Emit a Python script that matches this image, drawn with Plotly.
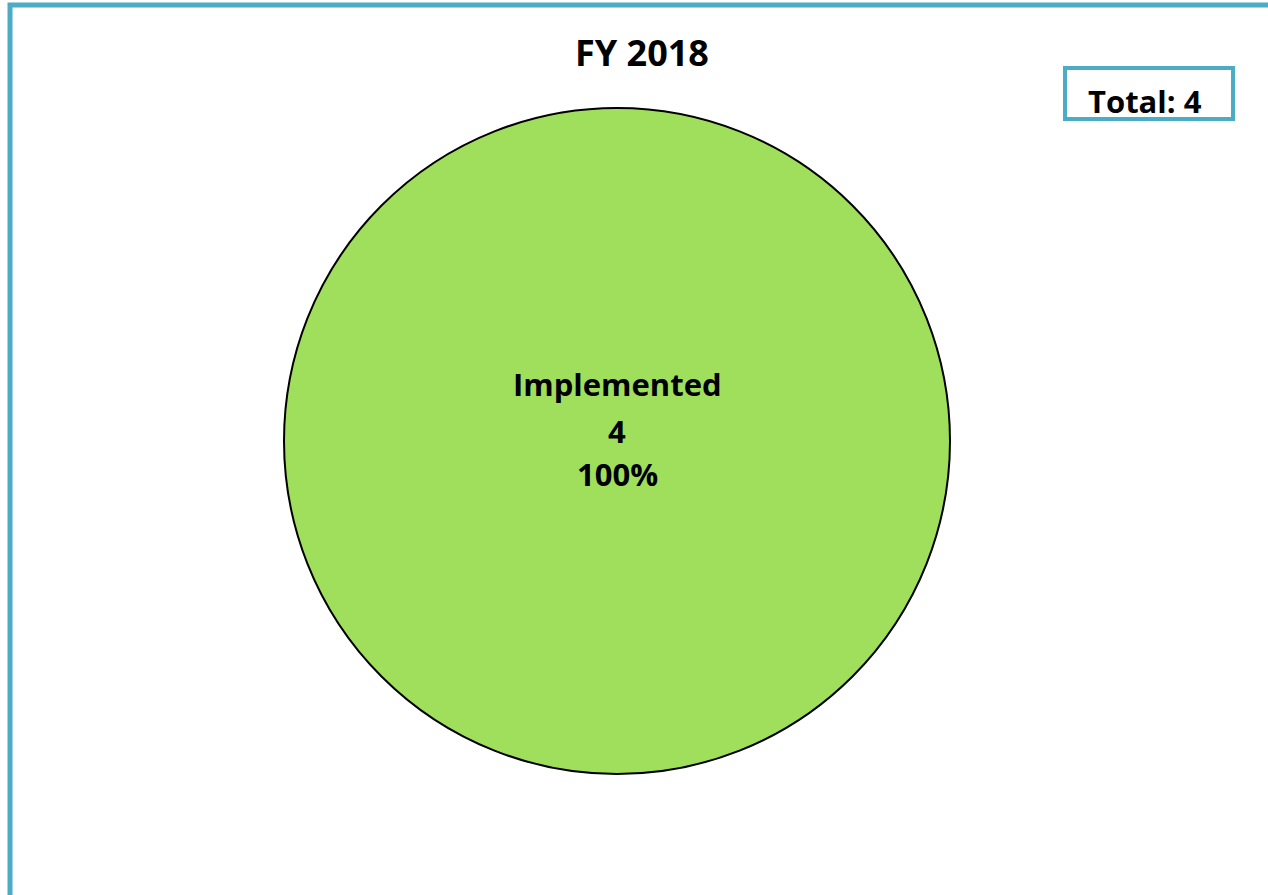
import plotly.graph_objects as go

labels = ["Implemented"]
values = [4]
title_text = "FY 2018"
total_label = "Total: " + str(sum(values))

W, H = 1268, 895
FONT = "Open Sans"

def px(x):
    return x / W

def py(y):
    return 1 - y / H

fig = go.Figure()
fig.add_trace(go.Pie(
    labels=labels,
    values=values,
    marker=dict(colors=["#A0DF5C"], line=dict(color="#000000", width=2)),
    textinfo="none",
    domain=dict(x=[px(284), px(950)], y=[py(775), py(107)]),
    sort=False,
    showlegend=False,
    hoverinfo="label+value+percent",
))

# slice labels (label / value / percent), drawn from the data
total = sum(values)
for lab, val in zip(labels, values):
    lines = [lab, str(val), "{:.0%}".format(val / total)]
    for line, yc in zip(lines, [384, 431, 474]):
        fig.add_annotation(text="<b>" + line + "</b>", xref="paper", yref="paper",
                           x=px(617), y=py(yc), showarrow=False,
                           font=dict(family=FONT, size=31, color="#000000"),
                           xanchor="center", yanchor="middle")

fig.add_shape(type="rect", xref="paper", yref="paper",
              x0=px(10), x1=1.02, y0=-0.02, y1=py(5),
              line=dict(color="#4BACC6", width=5), fillcolor="rgba(0,0,0,0)")
fig.add_shape(type="rect", xref="paper", yref="paper",
              x0=px(1065), x1=px(1233), y0=py(119), y1=py(68),
              line=dict(color="#4BACC6", width=4), fillcolor="rgba(0,0,0,0)")

fig.add_annotation(text="<b>" + title_text + "</b>", xref="paper", yref="paper",
                   x=px(642), y=py(53), showarrow=False,
                   font=dict(family=FONT, size=36, color="#000000"),
                   xanchor="center", yanchor="middle")
fig.add_annotation(text="<b>" + total_label + "</b>", xref="paper", yref="paper",
                   x=px(1145), y=py(101), showarrow=False,
                   font=dict(family=FONT, size=31, color="#000000"),
                   xanchor="center", yanchor="middle")

fig.update_layout(
    width=W, height=H,
    margin=dict(l=0, r=0, t=0, b=0),
    paper_bgcolor="#FFFFFF",
    plot_bgcolor="#FFFFFF",
)

fig.write_html("out.html",
               config={"displayModeBar": False},
               post_script="document.body.style.margin='0px';document.body.style.overflow='hidden';")
